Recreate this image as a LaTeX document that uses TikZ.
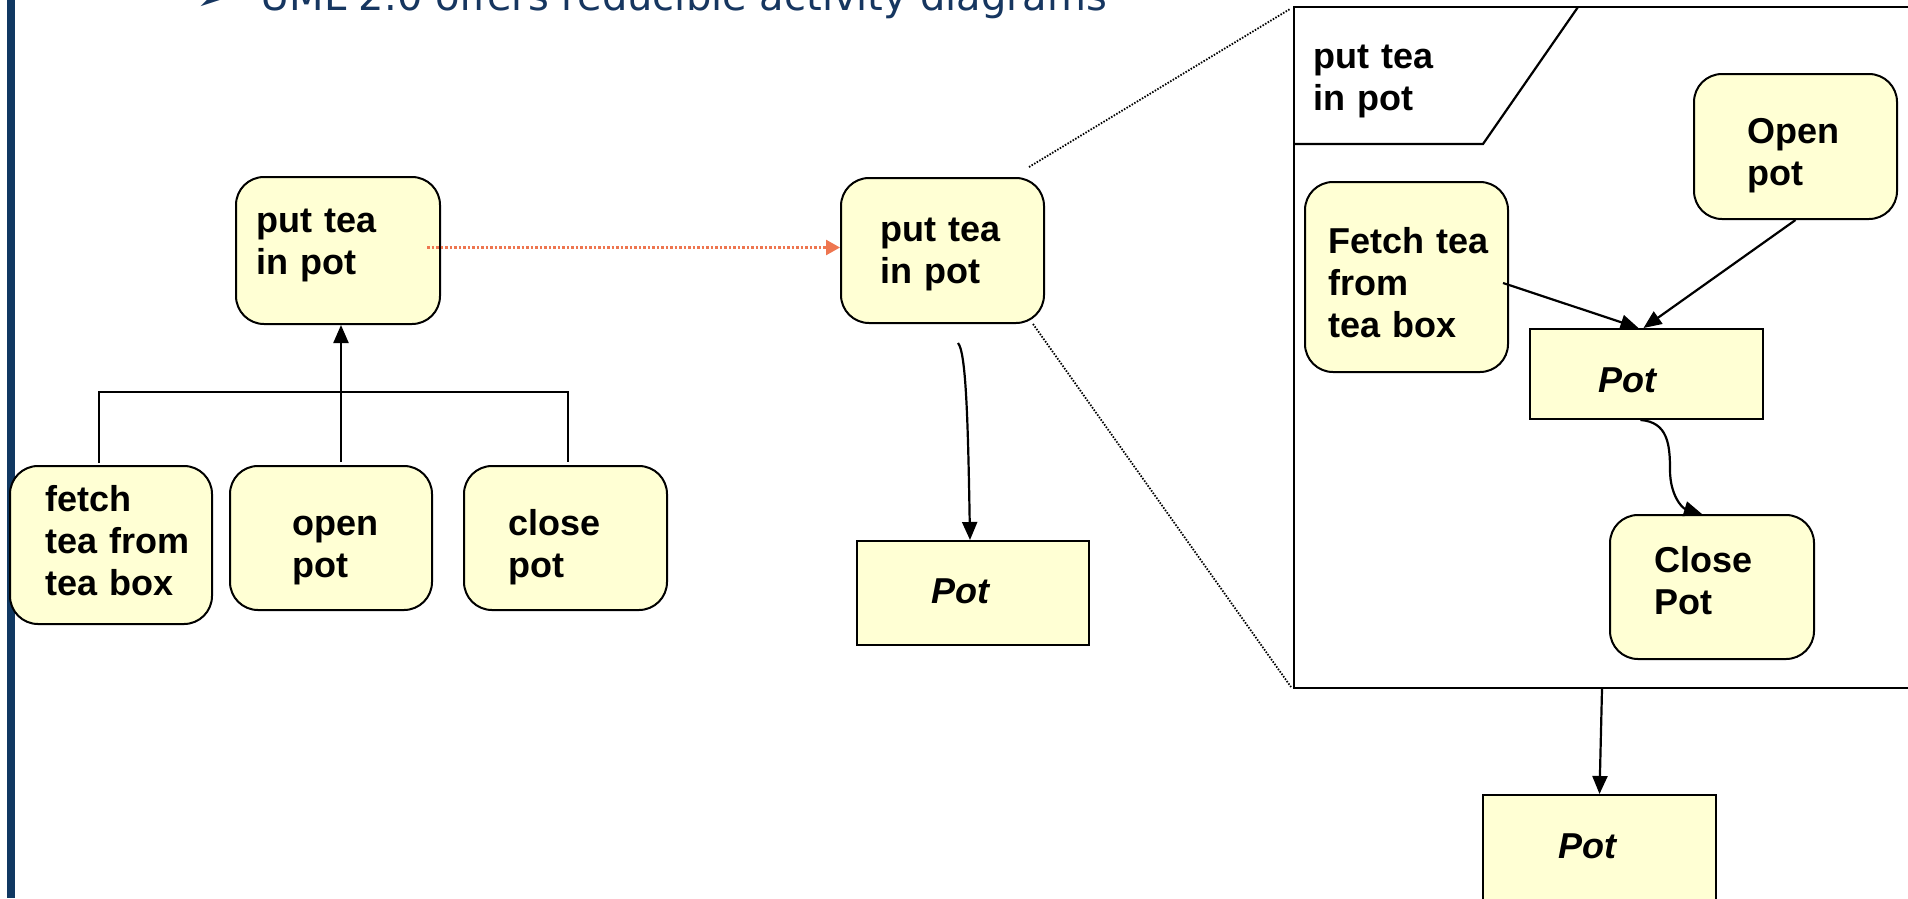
\documentclass[tikz,border=0pt]{standalone}
\usepackage{fontspec}
\setmainfont{Liberation Sans}
\newfontfamily\dejavu{DejaVu Sans}
\usetikzlibrary{arrows.meta,calc}
\definecolor{boxfill}{RGB}{255,255,212}
\definecolor{navy}{RGB}{16,56,98}
\definecolor{titleblue}{RGB}{22,54,96}
\definecolor{arrorange}{RGB}{238,118,80}
\begin{document}
\begin{tikzpicture}[x=1pt,y=-1pt,
  act/.style={draw=black, line width=2pt, fill=boxfill, rounded corners=28pt, inner sep=0pt},
  obj/.style={draw=black, line width=2pt, fill=boxfill, inner sep=0pt},
  lbl/.style={anchor=base west, inner sep=0pt, text width=220pt, align=left, font=\fontsize{36}{42}\selectfont\bfseries},
  objlbl/.style={lbl, font=\fontsize{36}{42}\selectfont\bfseries\itshape},
  conn/.style={line width=2.2pt, draw=black},
  flow/.style={conn, -{Triangle[length=18pt,width=15pt]}},
  zoomline/.style={line width=1.8pt, dash pattern=on 1.5pt off 1.5pt},
  refine/.style={draw=arrorange, line width=2.5pt, dash pattern=on 2.5pt off 2pt, -{Triangle[length=14pt,width=15pt]}},
]
\useasboundingbox (0,0) rectangle (1908,898);
\fill[white] (0,0) rectangle (1908,898);
\fill[navy] (7,0) rectangle (14.5,898);

% title (cut off at top, as in the reference)
\node[anchor=base west, inner sep=0pt, font=\dejavu\fontsize{40}{48}\selectfont, text=titleblue] (bullet) at (196,10) {➢};
\node[anchor=base west, inner sep=0pt, font=\dejavu\fontsize{40}{48}\selectfont, text=titleblue] (title) at (260,10) {UML 2.0 offers reducible activity diagrams};

% left diagram
\node[act, minimum width=204pt, minimum height=147pt] (lput) at (338,250.5) {};
\node[lbl] (lputT) at (256,232) {put tea\\in pot};
\node[act, minimum width=202pt, minimum height=158pt] (fetch) at (111,545) {};
\node[lbl] (fetchT) at (45,511) {fetch\\tea from\\tea box};
\node[act, minimum width=202pt, minimum height=144pt] (open) at (331,538) {};
\node[lbl] (openT) at (292,535) {open\\pot};
\node[act, minimum width=203pt, minimum height=144pt] (close) at (565.5,538) {};
\node[lbl] (closeT) at (508,535) {close\\pot};
\draw[conn] ($(fetch.north)+(-12,-2)$) -- ++(0,-71) -| ($(close.north)+(2.5,-3)$);
\draw[flow] ($(open.north)+(10,-3)$) -- ($(lput.south)+(3,0)$);

% middle diagram
\node[act, minimum width=203pt, minimum height=145pt] (mput) at (942.5,250.5) {};
\node[lbl] (mputT) at (880,241) {put tea\\in pot};
\node[obj, minimum width=232pt, minimum height=104pt] (mpot) at (973,593) {};
\node[objlbl] (mpotT) at (931,603) {Pot};
\draw[refine] ($(lput.east)+(-14,-3)$) -- ($(mput.west)+(0,-3)$);
\coordinate (mS) at (958,343);
\draw[flow] (mS) .. controls (966,352) and (968,420) .. ($(mpot.north)+(-3,0)$);

% right expanded frame
\node[draw=black, line width=2pt, minimum width=641pt, minimum height=681pt, inner sep=0pt] (frame) at (1614.5,347.5) {};
\coordinate (hA) at (1294,144);
\coordinate (hB) at (1483,144);
\coordinate (hC) at (1578,7);
\draw[conn] (hA) -- (hB) -- (hC);
\node[lbl] (frameT) at (1313,68) {put tea\\in pot};
\draw[zoomline] ($(mput.north east)+(-16,-10)$) -- ($(frame.north west)+(-3,3)$);
\draw[zoomline] ($(mput.south east)+(-12,0)$) -- ($(frame.south west)+(-2,-2)$);

\node[act, minimum width=203pt, minimum height=190pt] (rfetch) at (1406.5,277) {};
\node[lbl] (rfetchT) at (1328,253) {Fetch tea\\from\\tea box};
\node[act, minimum width=203pt, minimum height=145pt] (ropen) at (1795.5,146.5) {};
\node[lbl] (ropenT) at (1747,143) {Open\\pot};
\node[obj, minimum width=233pt, minimum height=90pt] (rpot) at (1646.5,374) {};
\node[objlbl] (rpotT) at (1598,392) {Pot};
\node[act, minimum width=204pt, minimum height=144pt] (rclose) at (1712,587) {};
\node[lbl] (rcloseT) at (1654,572) {Close\\Pot};
\node[obj, minimum width=233pt, minimum height=135pt] (rbpot) at (1599.5,862.5) {};
\node[objlbl] (rbpotT) at (1558,858) {Pot};

\draw[flow] ($(rfetch.east)+(-6,6)$) -- ($(rpot.north)+(-8,0)$);
\draw[flow] (ropen.south) -- ($(rpot.north)+(-3,0)$);
\draw[flow] ($(rpot.south)+(-6,0)$) .. controls (1668,422) and (1670,445) .. (1670,470) .. controls (1670,495) and (1682,508) .. ($(rclose.north)+(-10,0)$);
\draw[flow] ($(frame.south)+(-12.5,0)$) -- (rbpot.north);
\end{tikzpicture}
\end{document}
